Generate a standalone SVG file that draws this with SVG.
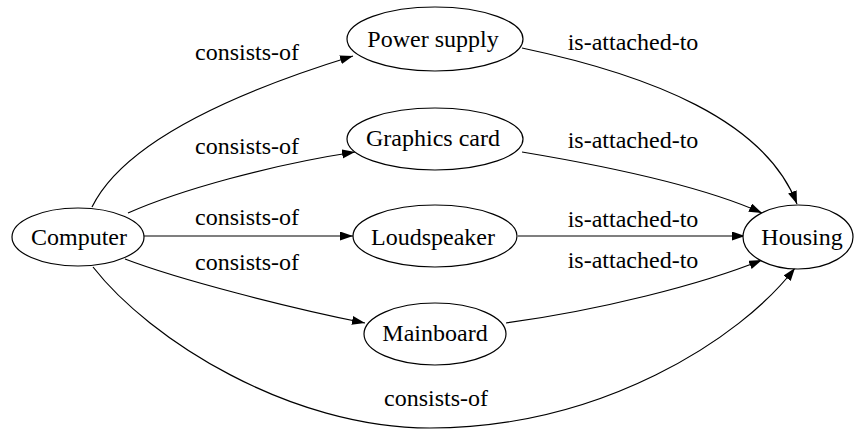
<svg xmlns="http://www.w3.org/2000/svg" width="854" height="432" viewBox="0 0 854 432">
  <defs>
    <marker id="arrow" markerUnits="userSpaceOnUse" markerWidth="14" markerHeight="10" refX="13" refY="4.5" orient="auto">
      <path d="M0,0 L13,4.5 L0,9 z" fill="#000000"/>
    </marker>
  </defs>
  <rect width="854" height="432" fill="#ffffff"/>

  <!-- connectors -->
  <g id="edges" fill="none" stroke="#000000" stroke-width="1.2" marker-end="url(#arrow)">
    <path d="M92,207 C120,150 210,100 353,56"/>
    <path d="M128,213 C180,190 270,165 355,152"/>
    <path d="M144,236 L353,236"/>
    <path d="M125,259 C180,280 290,308 365,323"/>
    <path d="M93,267 C150,340 290,428 430,428 C600,428 740,340 795,268"/>
    <path d="M522,48 C650,75 765,120 797,204"/>
    <path d="M522,152 C600,165 700,185 762,213"/>
    <path d="M518,236 L745,236"/>
    <path d="M506,323 C600,310 700,285 762,260"/>
  </g>

  <g font-family="Liberation Serif" font-size="24" text-anchor="middle" fill="#000000">
    <!-- edge labels -->
    <g id="edge-labels">
      <text x="247" y="60">consists-of</text>
      <text x="633" y="50">is-attached-to</text>
      <text x="247" y="154">consists-of</text>
      <text x="633" y="148">is-attached-to</text>
      <text x="247" y="225">consists-of</text>
      <text x="633" y="227">is-attached-to</text>
      <text x="247" y="270">consists-of</text>
      <text x="633" y="268">is-attached-to</text>
      <text x="436" y="406">consists-of</text>
    </g>

    <!-- nodes -->
    <g id="computer">
      <ellipse cx="78" cy="237" rx="66" ry="29" fill="#ffffff" stroke="#000000" stroke-width="1.2"/>
      <text x="79" y="245">Computer</text>
    </g>
    <g id="power-supply">
      <ellipse cx="435" cy="39" rx="88" ry="32" fill="#ffffff" stroke="#000000" stroke-width="1.2"/>
      <text x="433" y="47">Power supply</text>
    </g>
    <g id="graphics-card">
      <ellipse cx="435" cy="139" rx="88" ry="31" fill="#ffffff" stroke="#000000" stroke-width="1.2"/>
      <text x="433" y="146">Graphics card</text>
    </g>
    <g id="loudspeaker">
      <ellipse cx="435" cy="236" rx="82" ry="31" fill="#ffffff" stroke="#000000" stroke-width="1.2"/>
      <text x="433" y="245">Loudspeaker</text>
    </g>
    <g id="mainboard">
      <ellipse cx="435" cy="334" rx="71" ry="31" fill="#ffffff" stroke="#000000" stroke-width="1.2"/>
      <text x="435" y="341">Mainboard</text>
    </g>
    <g id="housing">
      <ellipse cx="798" cy="237" rx="55" ry="32" fill="#ffffff" stroke="#000000" stroke-width="1.2"/>
      <text x="802" y="245">Housing</text>
    </g>
  </g>
</svg>
